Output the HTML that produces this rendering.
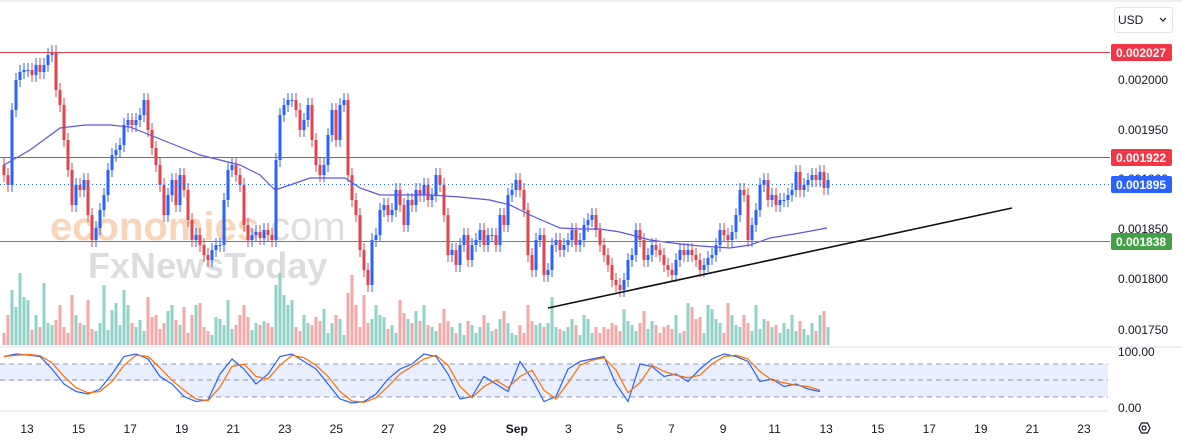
<!DOCTYPE html>
<html><head><meta charset="utf-8"><style>
body{margin:0;width:1182px;height:447px;overflow:hidden;background:#fff;font-family:"Liberation Sans",sans-serif}
svg{display:block}
</style></head><body>
<svg id="c" width="1182" height="447" xmlns="http://www.w3.org/2000/svg">
<rect x="0" y="0" width="1182" height="447" fill="#fff"/>
<line x1="0" y1="1" x2="1182" y2="1" stroke="#e0e3eb"/>
<rect x="0" y="364" width="1108" height="33" fill="#2962ff" fill-opacity="0.1"/>
<line x1="0" y1="364" x2="1108" y2="364" stroke="#787b86" stroke-dasharray="5,4" stroke-width="0.8"/>
<line x1="0" y1="380" x2="1108" y2="380" stroke="#787b86" stroke-dasharray="5,4" stroke-width="0.8"/>
<line x1="0" y1="397" x2="1108" y2="397" stroke="#787b86" stroke-dasharray="5,4" stroke-width="0.8"/>
<rect x="0" y="381" width="180" height="30" fill="#fff"/>
<line x1="0" y1="347" x2="1182" y2="347" stroke="#e0e3eb"/>
<line x1="0" y1="411" x2="1108" y2="411" stroke="#e0e3eb"/>
<text x="50" y="240" font-size="40" fill="#f7b98a" fill-opacity="0.6" font-weight="bold">economies<tspan fill="#c8c8c8" font-weight="normal">.com</tspan></text>
<text x="88" y="278" font-size="36" fill="#cfcfcf" fill-opacity="0.7" font-weight="bold">FxNewsToday</text>
<g id="vol"></g><g id="candles"></g><g id="overlay"></g><g id="stoch"></g>
<line x1="0" y1="52.5" x2="1110" y2="52.5" stroke="#e0404c" stroke-width="1"/>
<line x1="0" y1="157.5" x2="1110" y2="157.5" stroke="#e0404c" stroke-width="1"/>
<line x1="0" y1="241.5" x2="1110" y2="241.5" stroke="#43a047" stroke-width="1"/>
<line x1="0" y1="184.5" x2="1110" y2="184.5" stroke="#2962ff" stroke-width="1" stroke-dasharray="1,3"/>
<line x1="548" y1="308" x2="1012" y2="208" stroke="#111" stroke-width="1.6"/>
<g font-size="12" fill="#131722">
<text x="1118" y="84">0.002000</text>
<text x="1118" y="134">0.001950</text>
<text x="1118" y="183">0.001900</text>
<text x="1118" y="233">0.001850</text>
<text x="1118" y="283">0.001800</text>
<text x="1118" y="334">0.001750</text>
<text x="1118" y="356">100.00</text>
<text x="1118" y="412">0.00</text>
</g>
<g font-size="12" font-weight="bold" fill="#fff">
<rect x="1111" y="44" width="61" height="17" rx="2" fill="#f23645"/><text x="1116" y="57">0.002027</text>
<rect x="1111" y="149" width="61" height="17" rx="2" fill="#f23645"/><text x="1116" y="162">0.001922</text>
<rect x="1111" y="176" width="61" height="17" rx="2" fill="#2962ff"/><text x="1116" y="189">0.001895</text>
<rect x="1111" y="233" width="61" height="17" rx="2" fill="#43a047"/><text x="1116" y="246">0.001838</text>
</g>
<g>
<rect x="1114.5" y="7.5" width="58" height="25" rx="3" fill="#fff" stroke="#e0e3eb"/>
<text x="1118" y="24" font-size="12" fill="#131722">USD</text>
<path d="M1160 18 l3 3 l3 -3" fill="none" stroke="#131722" stroke-width="1.2"/>
</g>
<g fill="none" stroke="#131722" stroke-width="1.2">
<path d="M1139 428 l2.5 -5 h6 l2.5 5 l-2.5 5 h-6 z"/><circle cx="1144" cy="428" r="2"/>
</g>
<g id="xaxis" font-size="12" fill="#131722" text-anchor="middle"></g>
</svg>
<script>
const closes=[1905,1895,1970,2000,2008,2010,2010,2005,2015,2008,2015,2025,2028,1990,1975,1940,1910,1875,1895,1890,1900,1865,1840,1852,1870,1885,1910,1925,1930,1935,1955,1960,1955,1960,1965,1980,1950,1932,1915,1895,1865,1885,1900,1875,1905,1890,1860,1840,1845,1835,1825,1820,1830,1835,1835,1880,1910,1915,1905,1895,1855,1840,1845,1848,1842,1850,1845,1840,1920,1965,1975,1980,1980,1970,1950,1960,1975,1940,1915,1905,1915,1945,1970,1940,1975,1980,1905,1880,1865,1830,1810,1795,1840,1845,1870,1875,1865,1870,1890,1875,1855,1880,1875,1890,1885,1895,1880,1885,1905,1895,1865,1825,1830,1815,1835,1845,1820,1835,1840,1850,1835,1845,1845,1835,1865,1855,1885,1890,1900,1890,1870,1825,1810,1840,1845,1805,1810,1835,1840,1830,1835,1840,1850,1835,1840,1855,1860,1865,1850,1835,1825,1815,1800,1795,1790,1800,1820,1825,1850,1840,1820,1825,1835,1830,1825,1815,1810,1805,1820,1830,1825,1830,1825,1820,1810,1815,1822,1825,1835,1850,1845,1840,1848,1865,1890,1885,1840,1855,1870,1895,1900,1880,1885,1875,1880,1880,1885,1890,1908,1890,1895,1900,1905,1900,1908,1892,1900];
const volumes=[12,30,55,38,72,48,45,15,30,18,62,22,20,25,40,18,12,50,30,22,20,45,16,14,22,60,15,35,42,20,55,40,22,18,25,14,48,28,30,16,22,34,40,25,20,38,12,30,40,42,18,14,10,28,26,20,45,16,20,30,40,28,15,22,20,24,22,18,60,72,50,40,45,18,14,30,22,20,28,24,36,12,22,30,26,10,52,70,40,18,50,22,26,40,30,28,16,20,12,45,32,26,22,34,24,40,20,18,14,22,36,24,18,12,22,10,24,20,12,18,30,22,14,16,26,34,22,12,10,20,12,40,24,20,22,18,22,48,18,16,14,18,26,20,10,30,26,12,18,12,18,16,22,20,14,36,24,20,14,22,34,16,24,20,12,18,20,16,30,12,14,42,38,26,28,12,40,36,26,22,12,42,30,20,18,30,22,14,40,16,26,24,18,20,12,22,16,30,14,24,16,10,22,14,30,34,18,16,22,8,6,4];
const maValues=[1915,1930,1952,1955,1955,1953,1945,1935,1925,1920,1915,1905,1890,1895,1902,1902,1902,1892,1885,1885,1885,1883,1880,1875,1865,1852,1851,1851,1848,1840,1836,1834,1832,1835,1842,1847,1852];
const maX=[4,30,60,85,110,130,150,175,200,220,240,260,275,290,310,330,345,360,380,400,430,460,490,510,530,560,580,600,620,650,680,700,730,750,770,800,827];
const stochK=[95,100,98,95,70,40,25,20,30,60,95,100,90,55,40,15,5,8,60,90,70,40,60,95,100,85,70,40,10,2,5,20,50,70,80,100,95,60,10,15,55,40,25,85,50,5,15,70,85,90,95,40,5,80,75,55,60,45,70,90,100,95,85,45,50,35,40,30,25];
const dayLabels=["13","15","17","19","21","23","25","27","29","Sep","3","5","7","9","11","13","15","17","19","21","23"];
const dayIndex=[0,2,4,6,8,10,12,14,16,19,21,23,25,27,29,31,33,35,37,39,41];

const NS="http://www.w3.org/2000/svg";
const X0=4,STEP=4;
const xOf=i=>X0+i*STEP;
const yOf=p=>2080-p;
const volY=v=>345-v;
const stY=v=>404-v*0.5;
const dayX=d=>27+d*25.78;
function mk(tag,attrs,parent){const e=document.createElementNS(NS,tag);for(const k in attrs)e.setAttribute(k,attrs[k]);parent.appendChild(e);return e;}
const gv=document.getElementById('vol'),gc=document.getElementById('candles'),go=document.getElementById('overlay'),gs=document.getElementById('stoch'),gx=document.getElementById('xaxis');
for(let i=0;i<closes.length;i++){
  const o=i?closes[i-1]:closes[0]+10,c=closes[i],up=c>=o;
  const col=up?'#2962ff':'#e0454f';
  const x=xOf(i);
  const hi=Math.max(o,c)+7,lo=Math.min(o,c)-7;
  const w=mk('line',{x1:x,x2:x,y1:yOf(hi),y2:yOf(lo),stroke:col,'stroke-width':1},gc);
  
  
  const top=yOf(Math.max(o,c)),h=Math.max(1,Math.abs(o-c));
  const b=mk('rect',{x:x-1.5,y:top,width:3,height:h,fill:col},gc);
  
  
  const v=mk('rect',{x:x-1.5,y:volY(volumes[i]),width:3,height:volumes[i],fill:up?'#92d2c8':'#f4a9a9'},gv);
  
  
}
const ma=mk('polyline',{points:maX.map((x,i)=>x+','+yOf(maValues[i])).join(' '),fill:'none',stroke:'#5b55e6','stroke-width':1.2},go);


const stochD=stochK.map((v,i)=>{const a=stochK.slice(Math.max(0,i-1),i+1);return a.reduce((s,t)=>s+t,0)/a.length;});
const kl=mk('polyline',{points:stochK.map((v,i)=>(4+i*12)+','+stY(v)).join(' '),fill:'none',stroke:'#2962ff','stroke-width':1.2},gs);


const dl=mk('polyline',{points:stochD.map((v,i)=>(4+i*12)+','+stY(v)).join(' '),fill:'none',stroke:'#ff6d00','stroke-width':1.2},gs);


dayLabels.forEach((t,i)=>{const e=mk('text',{x:dayX(dayIndex[i]),y:433},gx);e.textContent=t;
  if(t==='Sep')e.setAttribute('font-weight','bold');
  
  });
</script>
</body></html>
